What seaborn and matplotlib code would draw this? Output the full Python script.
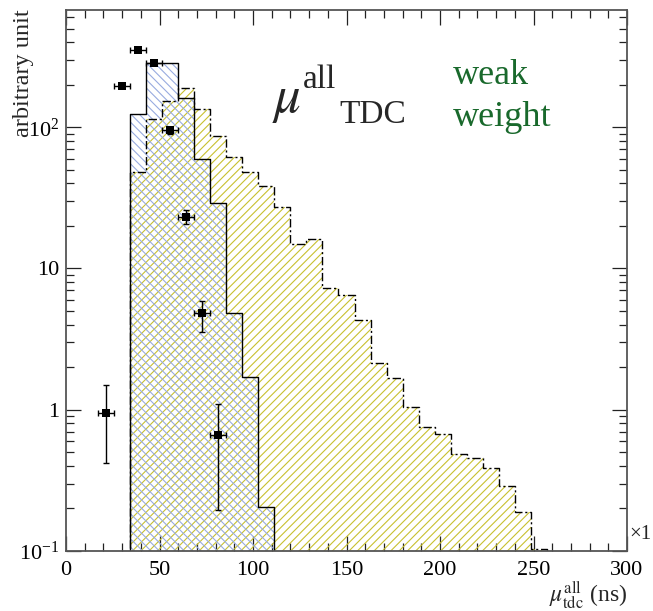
import numpy as np
import pandas as pd
import matplotlib
matplotlib.use("Agg")
import matplotlib.pyplot as plt
import seaborn as sns
from matplotlib.ticker import FixedLocator, FixedFormatter, MultipleLocator, LogLocator, NullFormatter

# ---------------- data ----------------
n_bins = 35
x_range = (0, 300)
blue_counts = [0, 0, 0, 0, 124, 287, 287, 162, 60, 29.3, 4.86, 1.71, 0.205,
               0, 0, 0, 0, 0, 0, 0, 0, 0, 0, 0, 0, 0, 0, 0, 0, 0, 0, 0, 0, 0, 0]
yellow_counts = [0, 0, 0, 0, 48.3, 115, 153.5, 191, 134, 86.9, 61.1, 48.3, 38.5,
                 27.1, 14.9, 16.1, 7.23, 6.48, 4.31, 2.16, 1.69, 1.05, 0.76, 0.67,
                 0.49, 0.453, 0.39, 0.29, 0.188, 0.103, 0, 0, 0, 0, 0]
point_bins = [2, 3, 4, 5, 6, 7, 8, 9]
point_vals = [0.95, 196, 351, 284, 95, 23.2, 4.81, 0.66]
point_err_lo = [0.53, 4, 7, 6, 6, 2.7, 1.28, 0.465]
point_err_hi = [0.55, 4, 7, 6, 6, 2.7, 1.09, 0.44]

x_ticks = [0, 50, 100, 150, 200, 250, 300]
y_ticks = [0.1, 1, 10, 100]
y_tick_labels = ["10$^{-1}$", "1", "10", "10$^{2}$"]

# ---------------- style ----------------
sns.set_style("ticks")
plt.rcParams["font.family"] = ["Liberation Serif", "DejaVu Serif"]
plt.rcParams["mathtext.fontset"] = "custom"
plt.rcParams["mathtext.rm"] = "Liberation Serif"
plt.rcParams["mathtext.it"] = "Liberation Serif:italic"
plt.rcParams["hatch.linewidth"] = 0.8

blue_col = "#98abe0"
yellow_col = "#c8c030"
frame_col = "#555555"

fig = plt.figure(figsize=(6.53, 6.11), dpi=100)
ax = fig.add_axes([66 / 653, 60 / 611, 561 / 653, 541 / 611])

bin_edges = np.linspace(x_range[0], x_range[1], n_bins + 1)
centers = 0.5 * (bin_edges[:-1] + bin_edges[1:])
df_b = pd.DataFrame({"t": centers, "w": blue_counts})
df_y = pd.DataFrame({"t": centers, "w": yellow_counts})

hist_kw = dict(x="t", weights="w", bins=n_bins, binrange=x_range, element="step", ax=ax)

# hatched fills
sns.histplot(data=df_y, fill=True, color=yellow_col, facecolor="none",
             edgecolor=yellow_col, linewidth=0, hatch="////", **hist_kw)
sns.histplot(data=df_b, fill=True, color=blue_col, facecolor="none",
             edgecolor=blue_col, linewidth=0, hatch="\\\\\\\\", **hist_kw)
# outlines
sns.histplot(data=df_y, fill=False, color="black", linewidth=1.0,
             linestyle=(0, (6, 2, 1.5, 2)), **hist_kw)
sns.histplot(data=df_b, fill=False, color="black", linewidth=1.0, **hist_kw)

# data points
px = [centers[i] for i in point_bins]
half_w = (bin_edges[1] - bin_edges[0]) / 2
ax.errorbar(px, point_vals, xerr=half_w, yerr=[point_err_lo, point_err_hi],
            fmt="none", ecolor="black", elinewidth=1.0, capsize=2.2, capthick=1.0,
            zorder=5)
sns.scatterplot(x=px, y=point_vals, marker="s", s=30, color="black",
                edgecolor="black", linewidth=0, ax=ax, zorder=6)

ax.set_yscale("log")
ax.set_xlim(0, 300)
ax.set_ylim(0.1, 676)

ax.xaxis.set_major_locator(FixedLocator(x_ticks))
ax.xaxis.set_minor_locator(MultipleLocator(10))
ax.yaxis.set_major_locator(FixedLocator(y_ticks))
ax.yaxis.set_major_formatter(FixedFormatter(y_tick_labels))
ax.yaxis.set_minor_locator(LogLocator(base=10, subs=np.arange(2, 10)))
ax.yaxis.set_minor_formatter(NullFormatter())

ax.tick_params(which="both", direction="in", top=True, right=True,
               colors="#222222", labelcolor="black", labelsize=16)
ax.tick_params(which="major", length=11, width=0.9)
ax.tick_params(which="minor", length=5.5, width=0.9)
ax.tick_params(axis="x", which="major", pad=7)
ax.tick_params(axis="y", which="major", pad=5)
for s in ax.spines.values():
    s.set_visible(True)
    s.set_color(frame_col)
    s.set_linewidth(1.3)

ax.set_ylabel("")
ax.set_xlabel("$\\mu^{\\mathrm{all}}_{\\mathrm{tdc}}$ (ns)", fontsize=17, loc="right",
              labelpad=0, math_fontfamily="stix")

fig.text(24 / 653, 1 - 9 / 611, "arbitrary unit", rotation=90, ha="center",
         va="top", fontsize=17.5)
fig.text(629 / 653, 1 - 539 / 611, "×1", ha="left", va="baseline", fontsize=15)

# in-plot labels
fig.text(272 / 653, 1 - 112 / 611, "$\\mu$", ha="left", va="baseline", fontsize=38,
         math_fontfamily="stix")
fig.text(303 / 653, 1 - 88 / 611, "all", ha="left", va="baseline", fontsize=24)
fig.text(339 / 653, 1 - 123 / 611, "TDC", ha="left", va="baseline", fontsize=24)
green = "#19692c"
fig.text(453 / 653, 1 - 84 / 611, "weak", ha="left", va="baseline", fontsize=26, color=green)
fig.text(453 / 653, 1 - 126 / 611, "weight", ha="left", va="baseline", fontsize=26, color=green)

fig.savefig("out.png", dpi=100)
